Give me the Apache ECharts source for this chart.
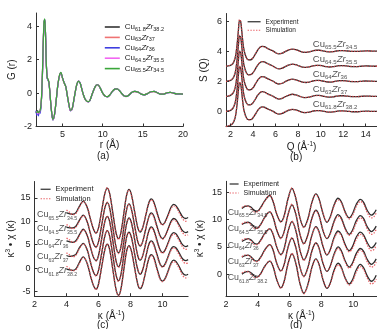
<!DOCTYPE html>
<html>
<head>
<meta charset="utf-8">
<script src="https://cdn.jsdelivr.net/npm/echarts@6/dist/echarts.min.js"></script>
<style>
html,body{margin:0;padding:0;background:#fff;}
#fig{width:377px;height:329px;}
</style>
</head>
<body>
<div id="fig"></div>
<script>
// ---- compositions (Cu_x Zr_100-x) ----
const cuPart = ['61.8', '63', '64', '64.5', '65.5'];
const zrPart = ['38.2', '37', '36', '35.5', '34.5'];
const compNames = ['Cu61.8Zr38.2', 'Cu63Zr37', 'Cu64Zr36', 'Cu64.5Zr35.5', 'Cu65.5Zr34.5'];

// ---- (a) reduced pair distribution function G(r) ----
const rA = [1.7,1.8,1.9,2.0,2.1,2.2,2.3,2.4,2.5,2.6,2.7,2.8,2.9,3.0,3.1,3.2,3.3,3.4,3.5,3.6,
  3.8,4.0,4.2,4.4,4.6,4.8,5.0,5.2,5.4,5.6,5.8,6.0,6.2,6.4,6.6,6.8,7.0,7.2,7.4,7.6,
  7.8,8.0,8.2,8.4,8.7,9.0,9.2,9.4,9.7,10.0,10.3,10.6,10.9,11.2,11.5,11.8,12.1,12.4,12.7,13.0,
  13.3,13.6,14.0,14.4,14.8,15.2,15.6,16.0,16.4,16.8,17.2,17.6,18.0,18.4,18.8,19.2,19.6,20.0];
const gA618 = [-1.10,-1.22,-1.05,-1.25,-1.12,-1.10,-0.85,-0.20,1.10,2.90,
  4.20,4.38,3.30,1.60,0.90,0.80,0.65,0.20,-0.40,-0.95,
  -1.60,-1.30,-0.50,0.40,1.00,1.22,0.90,0.62,0.40,-0.15,
  -0.70,-1.05,-0.95,-0.45,0.10,0.55,0.72,0.60,0.25,-0.10,
  -0.35,-0.48,-0.52,-0.45,-0.05,0.32,0.48,0.50,0.30,0.00,
  -0.18,-0.22,-0.10,0.10,0.24,0.26,0.14,-0.04,-0.18,-0.20,
  -0.10,0.04,0.10,0.06,-0.06,-0.10,-0.02,0.08,0.10,0.02,
  -0.06,-0.06,0.02,0.05,0.00,-0.05,-0.05,-0.06];
const gA63 = [-1.15,-1.18,-1.12,-1.20,-1.18,-1.08,-0.80,-0.15,1.15,2.95,
  4.22,4.34,3.25,1.58,0.92,0.82,0.66,0.22,-0.38,-0.93,
  -1.58,-1.29,-0.49,0.41,1.01,1.21,0.89,0.61,0.39,-0.14,
  -0.69,-1.04,-0.94,-0.44,0.11,0.55,0.71,0.59,0.24,-0.10,
  -0.35,-0.47,-0.51,-0.44,-0.05,0.31,0.47,0.49,0.29,0.00,
  -0.17,-0.21,-0.10,0.10,0.23,0.25,0.13,-0.04,-0.17,-0.19,
  -0.10,0.04,0.09,0.06,-0.05,-0.09,-0.02,0.07,0.09,0.02,
  -0.05,-0.05,0.02,0.04,0.00,-0.04,-0.05,-0.05];
const gA64 = [-1.05,-1.32,-1.12,-1.36,-1.15,-1.22,-0.92,-0.26,1.02,2.85,
  4.18,4.40,3.32,1.62,0.88,0.79,0.64,0.19,-0.41,-0.96,
  -1.61,-1.31,-0.51,0.39,0.99,1.22,0.91,0.63,0.40,-0.16,
  -0.71,-1.06,-0.96,-0.46,0.09,0.54,0.72,0.60,0.26,-0.09,
  -0.34,-0.48,-0.52,-0.45,-0.06,0.32,0.48,0.50,0.30,0.01,
  -0.18,-0.22,-0.11,0.09,0.24,0.26,0.14,-0.03,-0.18,-0.20,
  -0.11,0.03,0.10,0.07,-0.06,-0.10,-0.03,0.08,0.10,0.03,
  -0.06,-0.07,0.01,0.05,0.01,-0.05,-0.06,-0.06];
const gA645 = [-1.18,-1.10,-1.24,-1.14,-1.22,-1.04,-0.82,-0.18,1.12,2.92,
  4.24,4.41,3.28,1.59,0.91,0.81,0.66,0.21,-0.39,-0.94,
  -1.59,-1.30,-0.50,0.40,1.00,1.23,0.90,0.62,0.41,-0.15,
  -0.70,-1.05,-0.95,-0.45,0.10,0.56,0.73,0.60,0.25,-0.11,
  -0.36,-0.49,-0.52,-0.44,-0.04,0.33,0.48,0.50,0.29,0.00,
  -0.18,-0.22,-0.10,0.11,0.24,0.26,0.13,-0.04,-0.18,-0.21,
  -0.10,0.04,0.10,0.06,-0.06,-0.10,-0.02,0.08,0.10,0.02,
  -0.06,-0.06,0.02,0.05,0.00,-0.05,-0.05,-0.06];
const gA655 = [-1.12,-1.16,-1.08,-1.18,-1.14,-1.05,-0.78,-0.10,1.20,3.00,
  4.30,4.45,3.22,1.55,0.93,0.83,0.67,0.23,-0.37,-0.92,
  -1.57,-1.28,-0.48,0.42,1.02,1.24,0.91,0.62,0.40,-0.14,
  -0.68,-1.03,-0.93,-0.43,0.11,0.56,0.72,0.59,0.24,-0.10,
  -0.35,-0.47,-0.51,-0.44,-0.04,0.32,0.48,0.50,0.30,0.00,
  -0.17,-0.21,-0.10,0.10,0.24,0.26,0.14,-0.04,-0.17,-0.20,
  -0.10,0.04,0.10,0.06,-0.06,-0.10,-0.02,0.08,0.10,0.02,
  -0.06,-0.06,0.02,0.05,0.00,-0.05,-0.05,-0.06];

// ---- (b) structure factor S(Q), each curve stacked by offsetB ----
const qB = [1.6,1.8,2.0,2.2,2.4,2.5,2.6,2.7,2.8,2.9,3.0,3.1,3.2,3.4,3.6,3.8,4.0,4.2,4.4,4.6,
  4.8,5.0,5.2,5.4,5.6,5.8,6.0,6.3,6.6,6.9,7.2,7.5,7.8,8.1,8.4,8.7,9.0,9.3,9.6,9.9,
  10.2,10.5,10.8,11.1,11.4,11.7,12.0,12.4,12.8,13.2,13.6,14.0,14.4,14.8,15.0];
const offsetB = [0, 1, 2, 3, 4];
const sExp618 = [-1.00,-0.97,-0.92,-0.80,-0.45,-0.05,0.60,1.40,1.90,1.82,
  1.25,0.55,0.05,-0.40,-0.55,-0.55,-0.42,-0.20,0.05,0.22,
  0.30,0.28,0.20,0.13,0.07,0.00,-0.10,-0.18,-0.13,-0.01,
  0.09,0.14,0.10,0.02,-0.06,-0.08,-0.05,0.02,0.06,0.06,
  0.02,-0.03,-0.05,-0.03,0.01,0.04,0.04,0.01,-0.02,-0.02,
  0.00,0.02,0.01,0.00,0.00];
const sSim618 = [-1.00,-0.96,-0.90,-0.78,-0.42,-0.02,0.64,1.45,1.96,1.85,
  1.22,0.52,0.03,-0.42,-0.56,-0.54,-0.40,-0.18,0.06,0.23,
  0.30,0.27,0.19,0.12,0.06,-0.01,-0.11,-0.17,-0.12,0.00,
  0.10,0.13,0.09,0.01,-0.06,-0.07,-0.04,0.02,0.05,0.05,
  0.02,-0.02,-0.04,-0.03,0.01,0.03,0.03,0.01,-0.01,-0.02,
  0.00,0.01,0.01,0.00,0.00];
const sExp63 = [-1.00,-0.97,-0.93,-0.81,-0.46,-0.06,0.58,1.40,1.95,1.86,
  1.28,0.56,0.05,-0.41,-0.56,-0.55,-0.42,-0.19,0.06,0.23,
  0.31,0.29,0.21,0.13,0.07,0.00,-0.10,-0.18,-0.13,-0.01,
  0.09,0.14,0.10,0.02,-0.06,-0.08,-0.05,0.02,0.06,0.06,
  0.02,-0.03,-0.05,-0.03,0.01,0.04,0.04,0.01,-0.02,-0.02,
  0.00,0.02,0.01,0.00,0.00];
const sSim63 = [-1.00,-0.96,-0.91,-0.79,-0.43,-0.03,0.62,1.46,2.00,1.88,
  1.25,0.53,0.03,-0.43,-0.57,-0.54,-0.41,-0.18,0.07,0.24,
  0.31,0.28,0.20,0.12,0.06,-0.01,-0.11,-0.17,-0.12,0.00,
  0.10,0.13,0.09,0.01,-0.06,-0.07,-0.04,0.02,0.05,0.05,
  0.02,-0.02,-0.04,-0.03,0.01,0.03,0.03,0.01,-0.01,-0.02,
  0.00,0.01,0.01,0.00,0.00];
const sExp64 = [-1.00,-0.98,-0.93,-0.82,-0.47,-0.07,0.57,1.38,1.97,1.90,
  1.30,0.57,0.06,-0.41,-0.57,-0.56,-0.43,-0.19,0.06,0.23,
  0.31,0.29,0.21,0.14,0.07,0.00,-0.10,-0.18,-0.13,-0.01,
  0.09,0.14,0.10,0.02,-0.06,-0.08,-0.05,0.02,0.06,0.06,
  0.02,-0.03,-0.05,-0.03,0.01,0.04,0.04,0.01,-0.02,-0.02,
  0.00,0.02,0.01,0.00,0.00];
const sSim64 = [-1.00,-0.97,-0.91,-0.80,-0.44,-0.04,0.61,1.44,2.02,1.92,
  1.27,0.54,0.04,-0.43,-0.58,-0.55,-0.42,-0.18,0.07,0.24,
  0.31,0.28,0.20,0.13,0.06,-0.01,-0.11,-0.17,-0.12,0.00,
  0.10,0.13,0.09,0.01,-0.06,-0.07,-0.04,0.02,0.05,0.05,
  0.02,-0.02,-0.04,-0.03,0.01,0.03,0.03,0.01,-0.01,-0.02,
  0.00,0.01,0.01,0.00,0.00];
const sExp645 = [-1.00,-0.98,-0.94,-0.83,-0.48,-0.08,0.56,1.38,2.00,1.93,
  1.31,0.58,0.06,-0.42,-0.57,-0.56,-0.43,-0.19,0.06,0.23,
  0.31,0.29,0.21,0.14,0.07,0.00,-0.10,-0.18,-0.13,-0.01,
  0.09,0.14,0.10,0.02,-0.06,-0.08,-0.05,0.02,0.06,0.06,
  0.02,-0.03,-0.05,-0.03,0.01,0.04,0.04,0.01,-0.02,-0.02,
  0.00,0.02,0.01,0.00,0.00];
const sSim645 = [-1.00,-0.97,-0.92,-0.81,-0.45,-0.05,0.60,1.44,2.05,1.95,
  1.28,0.55,0.04,-0.44,-0.58,-0.55,-0.42,-0.18,0.07,0.24,
  0.31,0.28,0.20,0.13,0.06,-0.01,-0.11,-0.17,-0.12,0.00,
  0.10,0.13,0.09,0.01,-0.06,-0.07,-0.04,0.02,0.05,0.05,
  0.02,-0.02,-0.04,-0.03,0.01,0.03,0.03,0.01,-0.01,-0.02,
  0.00,0.01,0.01,0.00,0.00];
const sExp655 = [-1.00,-0.98,-0.94,-0.84,-0.49,-0.09,0.55,1.37,2.05,1.97,
  1.33,0.59,0.07,-0.42,-0.58,-0.57,-0.44,-0.20,0.06,0.24,
  0.32,0.30,0.22,0.14,0.07,0.00,-0.10,-0.18,-0.13,-0.01,
  0.09,0.14,0.10,0.02,-0.06,-0.08,-0.05,0.02,0.06,0.06,
  0.02,-0.03,-0.05,-0.03,0.01,0.04,0.04,0.01,-0.02,-0.02,
  0.00,0.02,0.01,0.00,0.00];
const sSim655 = [-1.00,-0.97,-0.92,-0.82,-0.46,-0.06,0.59,1.43,2.10,1.99,
  1.30,0.56,0.05,-0.44,-0.59,-0.56,-0.43,-0.19,0.07,0.25,
  0.32,0.29,0.21,0.13,0.06,-0.01,-0.11,-0.17,-0.12,0.00,
  0.10,0.13,0.09,0.01,-0.06,-0.07,-0.04,0.02,0.05,0.05,
  0.02,-0.02,-0.04,-0.03,0.01,0.03,0.03,0.01,-0.01,-0.02,
  0.00,0.01,0.01,0.00,0.00];

// ---- (c) EXAFS k^3-weighted chi(k), stacked by offsetC ----
const kC = [4.0,4.2,4.4,4.6,4.8,5.05,5.3,5.5,5.7,5.85,6.0,6.2,6.4,6.55,6.7,6.9,7.1,7.25,7.4,7.6,
  7.75,7.9,8.05,8.25,8.45,8.6,8.75,8.95,9.15,9.3,9.45,9.65,9.85,10.0,10.15,10.35,10.55,10.7,10.85,11.05,
  11.25,11.45,11.6];
const offsetC = [0, 3, 6, 9, 12];
const cExp618 = [-0.2,-0.4,-0.5,-0.1,1.2,2.4,0.9,-1.7,-3.9,-4.5,
  -3.4,0.3,4.0,5.1,3.9,-0.4,-4.6,-5.8,-4.5,0.1,
  3.5,4.8,3.8,0.2,-3.4,-4.4,-3.6,-0.8,2.1,2.9,
  2.3,0.0,-2.2,-2.8,-2.3,-0.6,1.2,1.7,1.4,0.3,
  -1.0,-1.5,-1.3];
const cSim618 = [0.4,-0.1,-0.6,-0.3,1.0,2.3,1.0,-1.6,-3.8,-4.6,
  -3.5,0.2,4.0,5.2,3.8,-0.5,-4.7,-6.0,-4.6,0.0,
  3.4,4.7,3.7,0.1,-3.3,-4.3,-3.5,-0.7,2.0,2.7,
  2.0,-0.3,-2.4,-2.9,-2.4,-0.8,0.9,1.4,1.1,-0.1,
  -1.5,-2.1,-2.0];
const cExp63 = [-0.3,-0.5,-0.4,0.0,1.3,2.3,0.8,-1.8,-4.0,-4.6,
  -3.5,0.2,3.9,5.0,3.8,-0.4,-4.5,-5.7,-4.4,0.2,
  3.5,4.7,3.7,0.2,-3.3,-4.3,-3.5,-0.7,2.1,2.8,
  2.2,0.0,-2.1,-2.7,-2.2,-0.5,1.2,1.6,1.3,0.2,
  -1.0,-1.4,-1.2];
const cSim63 = [0.3,-0.2,-0.6,-0.2,1.1,2.2,0.9,-1.7,-3.9,-4.7,
  -3.6,0.1,3.9,5.1,3.7,-0.5,-4.6,-5.9,-4.5,0.1,
  3.4,4.6,3.6,0.1,-3.2,-4.2,-3.4,-0.6,2.0,2.6,
  1.9,-0.3,-2.3,-2.8,-2.3,-0.7,0.9,1.3,1.0,-0.2,
  -1.4,-2.0,-1.9];
const cExp64 = [-0.2,-0.4,-0.5,-0.1,1.1,2.3,0.9,-1.6,-3.8,-4.4,
  -3.3,0.3,4.0,5.0,3.9,-0.3,-4.5,-5.7,-4.4,0.1,
  3.4,4.7,3.8,0.3,-3.3,-4.3,-3.5,-0.8,2.0,2.8,
  2.2,0.0,-2.1,-2.7,-2.2,-0.6,1.1,1.6,1.3,0.2,
  -1.0,-1.4,-1.2];
const cSim64 = [0.4,0.0,-0.5,-0.3,0.9,2.2,1.0,-1.5,-3.7,-4.5,
  -3.4,0.2,4.0,5.1,3.8,-0.4,-4.6,-5.9,-4.5,0.0,
  3.3,4.6,3.7,0.2,-3.2,-4.2,-3.4,-0.7,1.9,2.6,
  1.9,-0.3,-2.3,-2.8,-2.3,-0.8,0.8,1.3,1.0,-0.2,
  -1.4,-2.0,-1.9];
const cExp645 = [-0.3,-0.4,-0.4,0.0,1.2,2.3,0.8,-1.7,-3.9,-4.5,
  -3.4,0.2,3.9,5.0,3.8,-0.4,-4.5,-5.7,-4.5,0.1,
  3.4,4.7,3.7,0.2,-3.3,-4.3,-3.5,-0.7,2.0,2.8,
  2.2,0.0,-2.1,-2.7,-2.2,-0.6,1.1,1.6,1.3,0.2,
  -1.0,-1.4,-1.2];
const cSim645 = [0.3,-0.1,-0.6,-0.2,1.0,2.2,0.9,-1.6,-3.8,-4.6,
  -3.5,0.1,3.9,5.1,3.7,-0.5,-4.6,-5.9,-4.6,0.0,
  3.3,4.6,3.6,0.1,-3.2,-4.2,-3.4,-0.6,1.9,2.6,
  1.9,-0.3,-2.3,-2.8,-2.3,-0.8,0.8,1.3,1.0,-0.2,
  -1.4,-2.0,-1.9];
const cExp655 = [-0.2,-0.4,-0.5,-0.1,1.2,2.3,0.9,-1.6,-3.8,-4.5,
  -3.4,0.3,4.0,5.1,3.9,-0.3,-4.5,-5.7,-4.4,0.1,
  3.5,4.8,3.8,0.2,-3.3,-4.3,-3.5,-0.8,2.0,2.8,
  2.2,0.0,-2.1,-2.7,-2.2,-0.6,1.1,1.6,1.3,0.2,
  -1.0,-1.4,-1.2];
const cSim655 = [0.4,-0.1,-0.6,-0.3,1.0,2.2,1.0,-1.5,-3.7,-4.6,
  -3.5,0.2,4.0,5.2,3.8,-0.4,-4.6,-5.9,-4.5,0.0,
  3.4,4.7,3.7,0.1,-3.2,-4.2,-3.4,-0.7,1.9,2.6,
  1.9,-0.3,-2.3,-2.8,-2.3,-0.8,0.8,1.3,1.0,-0.2,
  -1.4,-2.0,-1.9];

// ---- (d) EXAFS at the second edge, stacked by offsetD ----
const kD = [3.0,3.2,3.4,3.6,3.8,3.95,4.2,4.45,4.75,4.95,5.2,5.45,5.65,5.9,6.15,6.4,6.65,6.9,7.15,7.4,
  7.65,7.85,8.1,8.35,8.55,8.8,9.05,9.25,9.5,9.75,9.95,10.2,10.45,10.65,10.9,11.15,11.3,11.45];
const offsetD = [0, 3, 6, 9, 12];
const dExp618 = [0.0,0.35,0.5,0.2,-0.4,-0.55,0.2,1.5,2.4,1.5,
  -1.1,-2.5,-1.4,1.9,3.7,1.9,-1.7,-3.5,-1.9,1.2,
  2.8,1.8,-1.0,-2.6,-1.7,0.7,2.0,1.3,-0.7,-1.8,
  -1.1,0.8,1.8,1.2,-0.4,-1.3,-1.0,-0.2];
const dSim618 = [0.2,0.5,0.4,0.0,-0.6,-0.6,0.1,1.4,2.4,1.6,
  -1.0,-2.6,-1.5,1.8,3.8,2.0,-1.6,-3.6,-2.0,1.1,
  2.7,1.8,-0.9,-2.5,-1.8,0.5,1.7,1.1,-0.8,-2.0,
  -1.4,0.4,1.4,0.9,-0.8,-1.8,-1.6,-0.9];
const dExp63 = [0.1,0.4,0.5,0.1,-0.5,-0.6,0.2,1.5,2.4,1.5,
  -1.1,-2.4,-1.3,1.9,3.6,1.8,-1.7,-3.4,-1.8,1.2,
  2.7,1.8,-1.0,-2.5,-1.6,0.7,2.0,1.3,-0.6,-1.7,
  -1.0,0.8,1.7,1.2,-0.4,-1.2,-0.9,-0.2];
const dSim63 = [0.2,0.5,0.4,0.0,-0.6,-0.7,0.1,1.4,2.4,1.6,
  -1.0,-2.5,-1.4,1.8,3.7,1.9,-1.6,-3.5,-1.9,1.1,
  2.7,1.7,-0.9,-2.4,-1.7,0.5,1.7,1.1,-0.8,-1.9,
  -1.3,0.4,1.4,0.9,-0.8,-1.7,-1.5,-0.8];
const dExp64 = [0.0,0.3,0.5,0.2,-0.4,-0.5,0.3,1.5,2.3,1.4,
  -1.1,-2.4,-1.4,1.8,3.6,1.9,-1.6,-3.4,-1.9,1.1,
  2.7,1.8,-0.9,-2.5,-1.6,0.7,1.9,1.3,-0.6,-1.7,
  -1.0,0.8,1.7,1.2,-0.3,-1.2,-0.9,-0.2];
const dSim64 = [0.2,0.5,0.4,0.0,-0.6,-0.6,0.2,1.4,2.3,1.5,
  -1.0,-2.5,-1.5,1.7,3.7,2.0,-1.5,-3.5,-2.0,1.0,
  2.6,1.7,-0.8,-2.4,-1.7,0.5,1.6,1.1,-0.8,-1.9,
  -1.3,0.4,1.3,0.9,-0.7,-1.7,-1.5,-0.8];
const dExp645 = [0.1,0.4,0.5,0.2,-0.4,-0.6,0.2,1.5,2.4,1.5,
  -1.0,-2.4,-1.3,1.9,3.7,1.9,-1.7,-3.4,-1.8,1.2,
  2.7,1.8,-1.0,-2.5,-1.6,0.7,1.9,1.3,-0.6,-1.7,
  -1.0,0.8,1.7,1.2,-0.4,-1.2,-0.9,-0.2];
const dSim645 = [0.2,0.5,0.4,0.0,-0.6,-0.6,0.1,1.4,2.4,1.6,
  -0.9,-2.5,-1.4,1.8,3.8,2.0,-1.6,-3.5,-1.9,1.1,
  2.6,1.7,-0.9,-2.4,-1.7,0.5,1.6,1.1,-0.8,-1.9,
  -1.3,0.4,1.3,0.9,-0.8,-1.7,-1.5,-0.8];
const dExp655 = [0.0,0.4,0.5,0.2,-0.4,-0.5,0.3,1.5,2.4,1.4,
  -1.1,-2.4,-1.4,1.8,3.7,1.8,-1.7,-3.4,-1.9,1.1,
  2.7,1.8,-0.9,-2.5,-1.6,0.7,1.9,1.3,-0.6,-1.7,
  -1.0,0.8,1.7,1.2,-0.4,-1.2,-0.9,-0.2];
const dSim655 = [0.2,0.5,0.4,0.0,-0.6,-0.6,0.2,1.4,2.4,1.5,
  -1.0,-2.5,-1.5,1.7,3.8,1.9,-1.6,-3.5,-2.0,1.0,
  2.6,1.7,-0.8,-2.4,-1.7,0.5,1.6,1.1,-0.8,-1.9,
  -1.3,0.4,1.3,0.9,-0.8,-1.7,-1.5,-0.8];

// composition label anchors (data coords, left edge of the text)
const labelB = { x: 9.3, y: [0.5, 1.45, 2.45, 3.45, 4.45] };
const labelC = { x: 2.15, y: [-0.6, 2.4, 5.4, 8.4, 11.4] };
const labelD = { x: 2.1, y: [-0.7, 2.3, 5.3, 8.3, 11.3] };

// ---- drawing ----
const FONT = '"Liberation Sans", Arial, Helvetica, sans-serif';
const INK = '#222';
const colorsA = ['#333333', '#ef7373', '#3f3fe0', '#f266f2', '#3aa63a'];
const EXP_COLOR = '#2b2b2b';
const SIM_COLOR = '#e5484d';

const gSets = [gA618, gA63, gA64, gA645, gA655];
const sExp = [sExp618, sExp63, sExp64, sExp645, sExp655];
const sSim = [sSim618, sSim63, sSim64, sSim645, sSim655];
const cExp = [cExp618, cExp63, cExp64, cExp645, cExp655];
const cSim = [cSim618, cSim63, cSim64, cSim645, cSim655];
const dExp = [dExp618, dExp63, dExp64, dExp645, dExp655];
const dSim = [dSim618, dSim63, dSim64, dSim645, dSim655];

const pairs = (xs, ys, off) => xs.map((x, i) => [x, Math.round((ys[i] + off) * 1000) / 1000]);

function compRich(main, sub, lh) {
  return {
    c: { fontFamily: FONT, fontSize: main, color: INK, lineHeight: lh },
    z: { fontFamily: FONT, fontSize: main, color: INK, fontStyle: 'italic', lineHeight: lh },
    s: { fontFamily: FONT, fontSize: sub, color: INK, verticalAlign: 'bottom', lineHeight: sub + 1 }
  };
}
const compText = i => '{c|Cu}{s|' + cuPart[i] + '}{z|Zr}{s|' + zrPart[i] + '}';
const supRich = {
  t: { fontFamily: FONT, fontSize: 10, color: INK, lineHeight: 13 },
  sup: { fontFamily: FONT, fontSize: 6.5, color: INK, verticalAlign: 'top', lineHeight: 8 }
};

function xAxisOf(gi, min, max, ticks, name, gap) {
  return {
    type: 'value', gridIndex: gi, min: min, max: max,
    name: name, nameLocation: 'middle', nameGap: gap,
    nameTextStyle: { fontFamily: FONT, fontSize: 10, color: INK, rich: supRich },
    axisLine: { show: true, onZero: false, lineStyle: { color: '#333', width: 1 } },
    axisTick: { show: true, inside: true, length: 3, customValues: ticks, lineStyle: { color: '#333' } },
    axisLabel: { customValues: ticks, fontFamily: FONT, fontSize: 9, color: INK, margin: 4 },
    splitLine: { show: false }
  };
}
function yAxisOf(gi, min, max, ticks, name, gap) {
  return {
    type: 'value', gridIndex: gi, min: min, max: max,
    name: name, nameLocation: 'middle', nameGap: gap, nameRotate: 90,
    nameTextStyle: { fontFamily: FONT, fontSize: 10, color: INK, rich: supRich },
    axisLine: { show: true, onZero: false, lineStyle: { color: '#333', width: 1 } },
    axisTick: { show: true, inside: true, length: 3, customValues: ticks, lineStyle: { color: '#333' } },
    axisLabel: { customValues: ticks, fontFamily: FONT, fontSize: 9, color: INK, margin: 4 },
    splitLine: { show: false }
  };
}

const series = [];

// (a) five overlapping G(r) curves
gSets.forEach((ys, i) => {
  series.push({
    type: 'line', name: compNames[i], xAxisIndex: 0, yAxisIndex: 0,
    data: pairs(rA, ys, 0), showSymbol: false, symbol: 'none', smooth: 0.3,
    lineStyle: { color: colorsA[i], width: 1.2 }, itemStyle: { color: colorsA[i] }, z: 2 + i
  });
});

// (b)-(d) experiment (solid) and simulation (dotted) pairs
function addPanel(ax, xs, exps, sims, offs, width) {
  exps.forEach((ys, i) => {
    series.push({
      type: 'line', name: 'Experiment', xAxisIndex: ax, yAxisIndex: ax,
      data: pairs(xs, ys, offs[i]), symbol: 'none', smooth: 0.35,
      lineStyle: { color: EXP_COLOR, width: width }, itemStyle: { color: EXP_COLOR }, z: 2
    });
  });
  sims.forEach((ys, i) => {
    series.push({
      type: 'line', name: 'Simulation', xAxisIndex: ax, yAxisIndex: ax,
      data: pairs(xs, ys, offs[i]), symbol: 'none', smooth: 0.35,
      lineStyle: { color: SIM_COLOR, width: width, type: [1.4, 1.4], opacity: 0.85 },
      itemStyle: { color: SIM_COLOR }, z: 3
    });
  });
}
addPanel(1, qB, sExp, sSim, offsetB, 1.3);
addPanel(2, kC, cExp, cSim, offsetC, 1.3);
addPanel(3, kD, dExp, dSim, offsetD, 1.3);

// composition labels placed in data coordinates
function addLabels(ax, spec, main, sub) {
  series.push({
    type: 'scatter', xAxisIndex: ax, yAxisIndex: ax, silent: true, z: 6,
    symbolSize: 0.1, itemStyle: { color: 'rgba(0,0,0,0)' },
    data: spec.y.map(y => [spec.x, y]),
    label: {
      show: true, position: 'right', distance: 0,
      formatter: p => compText(p.dataIndex), rich: compRich(main, sub, 12)
    }
  });
}
addLabels(1, labelB, 9.5, 6);
addLabels(2, labelC, 9, 5.2);
addLabels(3, labelD, 8.8, 5.2);

const smallLegend = (left, top, w, fs, gap) => ({
  data: ['Experiment', 'Simulation'], orient: 'vertical', left: left, top: top, padding: 0,
  itemWidth: w, itemHeight: 6, itemGap: gap, selectedMode: false,
  itemStyle: { opacity: 0 }, lineStyle: { width: 1.2 },
  textStyle: { fontFamily: FONT, fontSize: fs, color: INK, lineHeight: fs + 1 }
});

const option = {
  animation: false,
  backgroundColor: '#ffffff',
  grid: [
    { left: 36, top: 13, width: 147, height: 113.5 },
    { left: 226, top: 13.5, width: 157, height: 113 },
    { left: 34.5, top: 181.5, width: 153.6, height: 114.7 },
    { left: 226, top: 181.3, width: 152, height: 114.7 }
  ],
  xAxis: [
    xAxisOf(0, 1.7, 20, [5, 10, 15, 20], 'r (Å)', 10),
    xAxisOf(1, 1.6, 15, [2, 4, 6, 8, 10, 12, 14], '{t|Q (Å}{sup|-1}{t|)}', 10),
    xAxisOf(2, 2, 11.6, [2, 4, 6, 8, 10], '{t|κ (Å}{sup|-1}{t|)}', 10),
    xAxisOf(3, 2, 11.5, [2, 4, 6, 8, 10], '{t|κ (Å}{sup|-1}{t|)}', 10)
  ],
  yAxis: [
    yAxisOf(0, -2, 4.8, [-2, 0, 2, 4], 'G (r)', 19),
    yAxisOf(1, -1, 6.5, [0, 2, 4, 6], 'S (Q)', 17),
    yAxisOf(2, -6, 18.5, [-5, 0, 5, 10, 15], '{t|κ}{sup|3}{t| • χ (κ)}', 17),
    yAxisOf(3, -4, 17, [0, 5, 10, 15], '{t|κ}{sup|3}{t| • χ (κ)}', 19)
  ],
  legend: [
    {
      data: compNames, orient: 'vertical', left: 104, top: 23, padding: 0,
      itemWidth: 15, itemHeight: 8, itemGap: 1.4, selectedMode: false,
      itemStyle: { opacity: 0 }, lineStyle: { width: 1.6 },
      formatter: n => compText(compNames.indexOf(n)),
      textStyle: { rich: compRich(8, 5.5, 10) }
    },
    smallLegend(247, 18, 13, 6.5, 1),
    smallLegend(40, 185, 10, 7.5, 1),
    smallLegend(229, 180, 9, 7, 1)
  ],
  graphic: [
    { type: 'text', left: 97, top: 151, style: { text: '(a)', font: '10px ' + FONT, fill: INK } },
    { type: 'text', left: 290, top: 152, style: { text: '(b)', font: '10px ' + FONT, fill: INK } },
    { type: 'text', left: 97, top: 320, style: { text: '(c)', font: '10px ' + FONT, fill: INK } },
    { type: 'text', left: 290, top: 320, style: { text: '(d)', font: '10px ' + FONT, fill: INK } }
  ],
  series: series
};

const chart = echarts.init(document.getElementById('fig'), null, { renderer: 'canvas' });
chart.setOption(option);
</script>
</body>
</html>
